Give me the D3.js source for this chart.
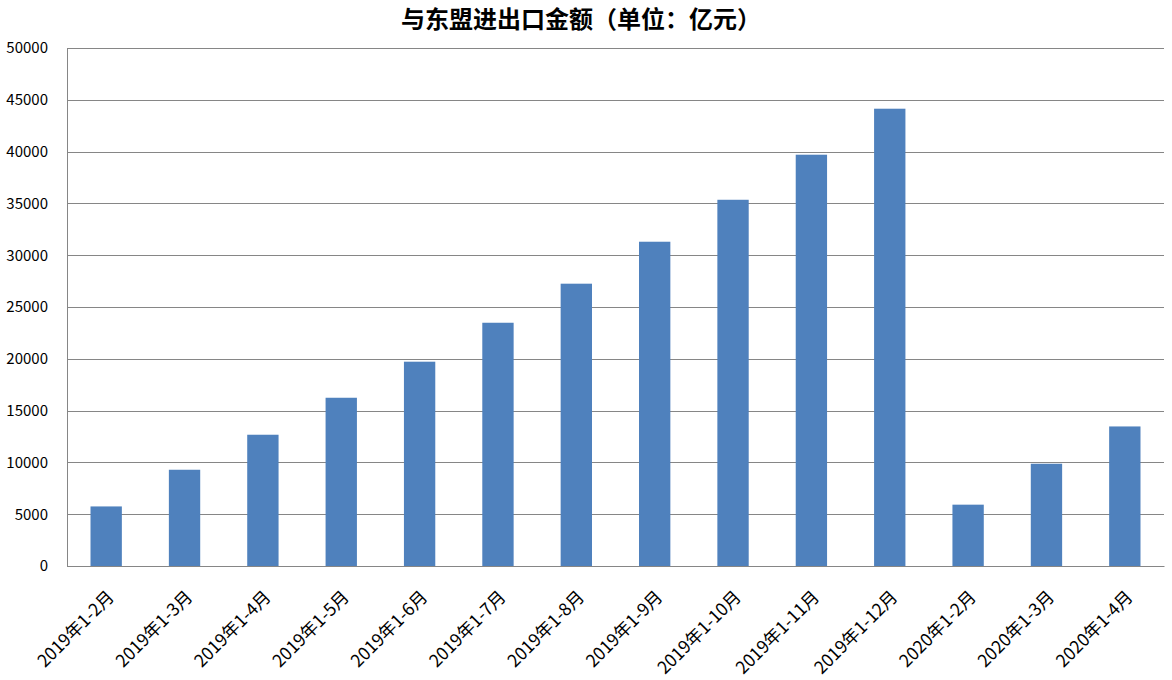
<!DOCTYPE html>
<meta charset="utf-8">
<title>与东盟进出口金额</title>
<script src="https://d3js.org/d3.v7.min.js"></script>
<style>
  body { margin: 0; background: #fff; }
  text { font-family: "Noto Sans CJK SC", "Noto Sans", sans-serif; }
</style>
<body>
<div id="chart"></div>
<script>

// data (亿元)
var months = ["2019年1-2月", "2019年1-3月", "2019年1-4月", "2019年1-5月", "2019年1-6月",
              "2019年1-7月", "2019年1-8月", "2019年1-9月", "2019年1-10月", "2019年1-11月",
              "2019年1-12月", "2020年1-2月", "2020年1-3月", "2020年1-4月"];
var values = [5750, 9290, 12670, 16240, 19720, 23480, 27250, 31300, 35350, 39700, 44140, 5920, 9870, 13470];
var yTicks = [0, 5000, 10000, 15000, 20000, 25000, 30000, 35000, 40000, 45000, 50000];
var title = "与东盟进出口金额（单位：亿元）";

var W = 1172, H = 680;
var margin = {top: 48, right: 8, bottom: 114, left: 67},
    width = W - margin.left - margin.right,
    height = H - margin.top - margin.bottom;

var svg = d3.select("#chart")
  .append("svg")
    .attr("width", W)
    .attr("height", H);

svg.append("text")
    .attr("x", 581)
    .attr("y", 28)
    .attr("text-anchor", "middle")
    .style("font-size", "24px")
    .style("font-weight", "bold")
    .text(title);

var g = svg.append("g")
    .attr("transform", "translate(" + margin.left + "," + margin.top + ")");

var x = d3.scaleBand()
    .domain(months)
    .range([0, width])
    .paddingInner(0.6)
    .paddingOuter(0.3);

var y = d3.scaleLinear()
    .domain([0, 50000])
    .range([height, 0]);

// horizontal grid lines
g.append("g")
    .selectAll("line")
    .data(yTicks)
    .enter()
    .append("line")
      .attr("x1", 0)
      .attr("x2", width)
      .attr("y1", function(d) { return Math.round(y(d)) + 0.5; })
      .attr("y2", function(d) { return Math.round(y(d)) + 0.5; })
      .attr("stroke", "#868686")
      .attr("stroke-width", 1);

// y axis
var yAxis = g.append("g")
    .call(d3.axisLeft(y).tickValues(yTicks).tickFormat(d3.format("d")).tickSize(0).tickPadding(19));
yAxis.select(".domain").attr("stroke", "#868686");
yAxis.selectAll("text")
    .style("font-size", "15px")
    .attr("fill", "#000");

// bars
g.selectAll(".bar")
    .data(values)
    .enter()
    .append("rect")
      .attr("class", "bar")
      .attr("x", function(d, i) { return x(months[i]); })
      .attr("width", x.bandwidth())
      .attr("y", function(d) { return y(d); })
      .attr("height", function(d) { return height - y(d); })
      .attr("fill", "#4F81BD");

// x axis
var xAxis = g.append("g")
    .attr("transform", "translate(0," + height + ")")
    .call(d3.axisBottom(x).tickSize(0).tickPadding(0));
xAxis.select(".domain").attr("stroke", "#868686");
xAxis.selectAll("text")
    .style("font-size", "17.5px")
    .attr("fill", "#000")
    .attr("text-anchor", "end")
    .attr("dy", 0)
    .attr("transform", "translate(9,32) rotate(-45)");

</script>
</body>
